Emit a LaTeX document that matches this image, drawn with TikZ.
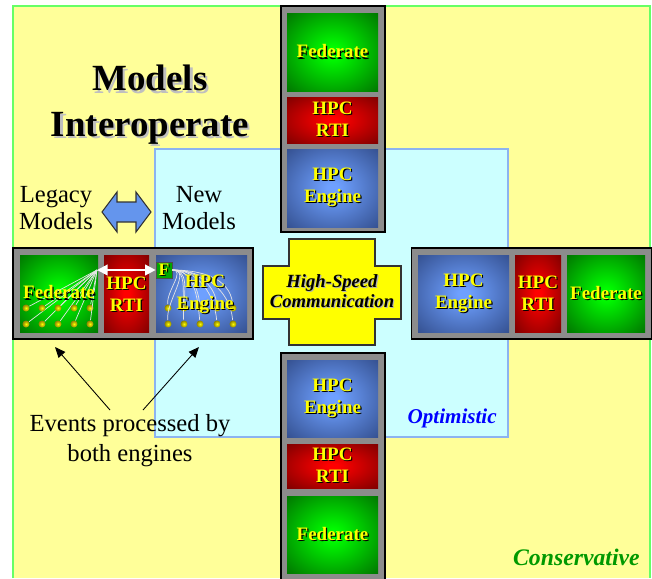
\documentclass[tikz,border=0pt]{standalone}
\usepackage{fontspec}
\setmainfont{Liberation Serif}
\usetikzlibrary{arrows.meta}

% Define colors
\definecolor{yellowbg}{RGB}{255,255,153}
\definecolor{greenline}{RGB}{102,255,102}
\definecolor{cyanbg}{RGB}{204,255,255}
\definecolor{cyanline}{RGB}{140,180,240}
\definecolor{panelgray}{RGB}{140,140,140}
\definecolor{textyellow}{RGB}{255,255,0}
\definecolor{fedlight}{RGB}{0,255,0}
\definecolor{feddark}{RGB}{0,100,0}
\definecolor{rtilight}{RGB}{255,0,0}
\definecolor{rtidark}{RGB}{110,0,0}
\definecolor{englight}{RGB}{110,160,255}
\definecolor{engdark}{RGB}{45,70,130}
\definecolor{dotolive}{RGB}{140,130,0}
\definecolor{swapblue}{RGB}{100,149,237}
\definecolor{optblue}{RGB}{0,0,255}
\definecolor{consgreen}{RGB}{0,153,0}

% bevelled box shadings
\pgfdeclareradialshading{fedshade}{\pgfpoint{0bp}{0bp}}{color(0bp)=(fedlight); color(3bp)=(fedlight); color(40bp)=(feddark); color(50bp)=(feddark)}
\pgfdeclareradialshading{rtishade}{\pgfpoint{0bp}{0bp}}{color(0bp)=(rtilight); color(3bp)=(rtilight); color(40bp)=(rtidark); color(50bp)=(rtidark)}
\pgfdeclareradialshading{engshade}{\pgfpoint{0bp}{0bp}}{color(0bp)=(englight); color(3bp)=(englight); color(40bp)=(engdark); color(50bp)=(engdark)}

% text with a drop shadow
\newcommand\shadowtext[3][black]{\makebox[0pt][l]{\raisebox{-#2}{\hspace{#2}\textcolor{#1}{#3}}}#3}
\newcommand\boxword[1]{\shadowtext{0.7pt}{#1}}

\begin{document}
\begin{tikzpicture}[x=0.02cm, y=-0.02cm,
    panel/.style 2 args={draw=black, line width=0.6pt, fill=panelgray, minimum width=#1*0.02cm, minimum height=#2*0.02cm, inner sep=0pt},
    box/.style 2 args={minimum width=#1*0.02cm, minimum height=#2*0.02cm, inner sep=0pt, text=textyellow, align=center, font=\fontsize{10.8}{12.5}\selectfont\bfseries},
    fedbox/.style 2 args={box={#1}{#2}, shading=fedshade},
    rtibox/.style 2 args={box={#1}{#2}, shading=rtishade},
    engbox/.style 2 args={box={#1}{#2}, shading=engshade},
    boxtext/.style={text=textyellow, align=center, font=\fontsize{10.8}{12.5}\selectfont\bfseries},
    headline/.style={align=center, font=\fontsize{21}{26}\selectfont\bfseries},
    plaintext/.style={align=center, font=\fontsize{14}{15.5}\selectfont},
    hubtext/.style={align=center, font=\fontsize{10.6}{11.3}\selectfont\bfseries\itshape},
    areaname/.style={anchor=base east, inner sep=0pt},
    eventdot/.style={circle, inner sep=0pt, minimum size=7*0.02cm, inner color=yellow, outer color=dotolive},
    wire/.style={black!10, line width=0.4pt},
    pointer/.style={-{Triangle[length=6pt,width=5pt]}, line width=0.5pt},
    swaparrow/.style={fill=swapblue, draw=black!80, line width=0.6pt}
  ]

  \useasboundingbox (0,0) rectangle (652,578);

  % Conservative and optimistic areas
  \fill[yellowbg] (13,6) rectangle (650,578);
  \draw[greenline, line width=0.8pt] (13,578) -- (13,6) -- (650,6) -- (650,578);
  \draw[cyanline, fill=cyanbg, line width=0.8pt] (155,149) rectangle (508,437);

  % Title
  \node[headline] (title) at (150,106) {\shadowtext[black!25]{1.3pt}{Models}\\\shadowtext[black!25]{1.3pt}{Interoperate}};

  % Legacy and new models
  \node[plaintext] (legacy) at (56,208) {Legacy\\Models};
  \node[plaintext] (newmod) at (199,208) {New\\Models};
  \draw[swaparrow] (102,212) -- (117,192) -- (117,202) -- (136,202) -- (136,192) -- (151,212)
    -- (136,232) -- (136,222) -- (117,222) -- (117,232) -- cycle;

  % Top column
  \node[panel={104}{226}] (topcol) at (333,119) {};
  \node[fedbox={91}{78}] (fedT) at (332.5,52) {\boxword{Federate}};
  \node[rtibox={91}{46}] (rtiT) at (332.5,120) {\boxword{HPC}\\\boxword{RTI}};
  \node[engbox={91}{78}] (engT) at (332.5,188) {\boxword{HPC}\\\boxword{Engine}};

  % Bottom column
  \node[panel={104}{228}] (botcol) at (333,467) {};
  \node[engbox={91}{77}] (engB) at (332.5,398.5) {\boxword{HPC}\\\boxword{Engine}};
  \node[rtibox={91}{44}] (rtiB) at (332.5,466) {\boxword{HPC}\\\boxword{RTI}};
  \node[fedbox={91}{77}] (fedB) at (332.5,534.5) {\boxword{Federate}};

  % Right row
  \node[panel={240}{91}] (rightrow) at (531.5,293.5) {};
  \node[engbox={91}{77}] (engR) at (463.5,293.5) {\boxword{HPC}\\\boxword{Engine}};
  \node[rtibox={46}{77}] (rtiR) at (538,293.5) {\boxword{HPC}\\\boxword{RTI}};
  \node[fedbox={78}{77}] (fedR) at (606,293.5) {\boxword{Federate}};

  % High-speed communication
  \filldraw[fill=textyellow, draw=black!80, line width=0.8pt] (289,239) -- (375,239) -- (375,266) -- (401,266)
    -- (401,319) -- (375,319) -- (375,345) -- (289,345) -- (289,319) -- (263,319) -- (263,266) -- (289,266) -- cycle;
  \node[hubtext] (hsc) at (332,292) {\shadowtext[black!30]{0.6pt}{High-Speed}\\\shadowtext[black!30]{0.6pt}{Communication}};

  % Left row, models run on both engines
  \node[panel={240}{91}] (leftrow) at (133,293.5) {};
  \node[fedbox={78}{77}] (fedL) at (59,293.5) {};
  \node[rtibox={45}{77}] (rtiL) at (126.5,293.5) {};
  \node[engbox={91}{77}] (engL) at (201.5,293.5) {};
  \coordinate (hub) at (97,270);
  \node[box={16}{16}, fill=green!65!black, draw=black!70, font=\fontsize{10}{10}\selectfont\bfseries] (fbox) at (164,270) {\boxword{F}};

  \foreach \x in {26,42,58,74,90}
    \foreach \y in {308,324} {
      \node[eventdot] (fd\x\y) at (\x,\y) {};
      \draw[wire] (hub) -- (fd\x\y);
    }
  \foreach \x in {168,184,200,217,233}
    \foreach \y in {308,324} {
      \node[eventdot] (ed\x\y) at (\x,\y) {};
      \draw[wire] (fbox.east) to[out=0, in=95] (ed\x\y);
    }
  \draw[white, line width=1.2pt, {Triangle[length=6pt,width=6pt]}-{Triangle[length=6pt,width=6pt]}] (hub) -- (fbox);

  \node[boxtext] (fedLtext) at (59,293) {\boxword{Federate}};
  \node[boxtext] (rtiLtext) at (126.5,295) {\boxword{HPC}\\\boxword{RTI}};
  \node[boxtext] (engLtext) at (205,295) {\boxword{HPC}\\\boxword{Engine}};

  % Events processed by both engines
  \node[plaintext, font=\fontsize{14}{17}\selectfont] (events) at (130,441) {Events processed by\\both engines};
  \coordinate (evL) at (110,410);
  \coordinate (evR) at (143,410);
  \coordinate (fedtip) at (55,347);
  \coordinate (engtip) at (199,347);
  \draw[pointer] (evL) -- (fedtip);
  \draw[pointer] (evR) -- (engtip);

  % Area names
  \node[areaname, text=optblue, font=\fontsize{12}{12}\selectfont\bfseries\itshape] (optimistic) at (497,423) {Optimistic};
  \node[areaname, text=consgreen, font=\fontsize{13.5}{13.5}\selectfont\bfseries\itshape] (conservative) at (640,565) {Conservative};

\end{tikzpicture}
\end{document}
